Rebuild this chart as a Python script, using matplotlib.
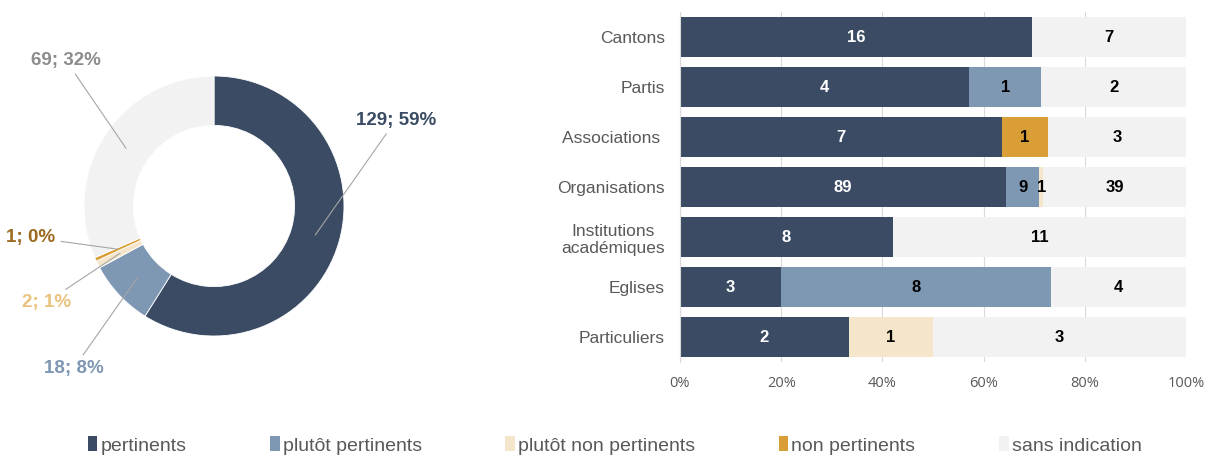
import numpy as np
import matplotlib
matplotlib.use("Agg")
import matplotlib.pyplot as plt
from matplotlib.patches import Patch

plt.rcParams['font.family'] = ['Liberation Sans Narrow', 'Liberation Sans', 'DejaVu Sans']

# données
reponses = ['pertinents', 'plutôt pertinents', 'plutôt non pertinents', 'non pertinents', 'sans indication']
couleurs = ['#3A4B63', '#7E97B3', '#F5E6CB', '#D99E36', '#F2F2F2']
couleurs_etiq = ['#3A4B63', '#7E97B3', '#E9C27E', '#9C6B1F', '#8C8C8C']

total = [129, 18, 2, 1, 69]

categories = ['Cantons', 'Partis', 'Associations ', 'Organisations',
              'Institutions\nacadémiques', 'Eglises', 'Particuliers']
pertinents = [16, 4, 7, 89, 8, 3, 2]
plutot_pertinents = [0, 1, 0, 9, 0, 8, 0]
plutot_non_pertinents = [0, 0, 0, 1, 0, 0, 1]
non_pertinents = [0, 0, 1, 0, 0, 0, 0]
sans_indication = [7, 2, 3, 39, 11, 4, 3]

W, H = 1205, 462
fig = plt.figure(figsize=(W / 100, H / 100), dpi=100)

# ---- anneau ----
cx, cy, R = 214, 206, 130
ax1 = fig.add_axes([(cx - R) / W, (H - cy - R) / H, 2 * R / W, 2 * R / H])
largeur = 0.38
ax1.pie(total, colors=couleurs, startangle=90, counterclock=False, radius=1,
        wedgeprops=dict(width=largeur, edgecolor='white', linewidth=0.6))
ax1.set_xlim(-1, 1)
ax1.set_ylim(-1, 1)
ax1.set_aspect('equal')

# position des étiquettes (en unités du rayon)
pos_texte = [(1.09, 0.66), (-0.85, -1.25), (-1.10, -0.74), (-1.22, -0.24), (-0.87, 1.12)]
ha_texte = ['left', 'right', 'right', 'right', 'right']
fractions = np.array(total) / sum(total)
debut = np.concatenate([[0], np.cumsum(fractions)[:-1]])
rmid = 1 - largeur / 2
for i, n in enumerate(total):
    ang = np.pi / 2 - 2 * np.pi * (debut[i] + fractions[i] / 2)
    ax_, ay_ = rmid * np.cos(ang), rmid * np.sin(ang)
    tx, ty = pos_texte[i]
    pct = int(round(fractions[i] * 100))
    ax1.annotate(f'{n}; {pct}%', xy=(ax_, ay_), xytext=(tx, ty),
                 ha=ha_texte[i], va='center', fontsize=13.5, fontweight='bold',
                 color=couleurs_etiq[i], family=['Liberation Sans', 'DejaVu Sans'],
                 annotation_clip=False,
                 arrowprops=dict(arrowstyle='-', color='#A6A6A6', lw=0.8,
                                 shrinkA=2, shrinkB=0))

# ---- barres ----
x0, x1, y0, y1 = 680, 1186, 12, 362
ax2 = fig.add_axes([x0 / W, (H - y1) / H, (x1 - x0) / W, (y1 - y0) / H])
series = np.array([pertinents, plutot_pertinents, plutot_non_pertinents,
                   non_pertinents, sans_indication], dtype=float)
parts = series / series.sum(axis=0) * 100
ypos = np.arange(len(categories))
gauche = np.zeros(len(categories))
for k in range(len(reponses)):
    ax2.barh(ypos, parts[k], left=gauche, height=0.8, color=couleurs[k], zorder=2)
    for j in range(len(categories)):
        if series[k, j] > 0:
            ax2.text(gauche[j] + parts[k, j] / 2, ypos[j], f'{int(series[k, j])}',
                     ha='center', va='center', fontsize=12, fontweight='bold',
                     color='white' if k == 0 else 'black', zorder=3)
    gauche += parts[k]

ax2.set_xlim(0, 100)
ax2.set_ylim(len(categories) - 0.5, -0.5)
ax2.set_yticks(ypos)
ax2.set_yticklabels(categories, fontsize=12.5, color='#595959', multialignment='center')
ax2.set_xticks(np.arange(0, 101, 20))
ax2.set_xticklabels([f'{v}%' for v in range(0, 101, 20)], fontsize=10.5, color='#595959',
                    family=['Open Sans', 'DejaVu Sans'])
ax2.tick_params(length=0, pad=11)
ax2.tick_params(axis='x', pad=10)
ax2.grid(axis='x', color='#D9D9D9', lw=0.8, zorder=0)
for s in ['top', 'bottom', 'right']:
    ax2.spines[s].set_visible(False)
ax2.spines['left'].set_color('#D9D9D9')

# ---- légende ----
poignees = [Patch(facecolor=c, edgecolor='none') for c in couleurs]
fig.legend(poignees, reponses, loc='lower center', bbox_to_anchor=(0.51, -0.022), ncol=5,
           frameon=False, fontsize=14, handlelength=0.5, handleheight=0.8,
           handletextpad=0.15, columnspacing=4.3, labelcolor='#595959')

fig.savefig('out.png', dpi=100)
